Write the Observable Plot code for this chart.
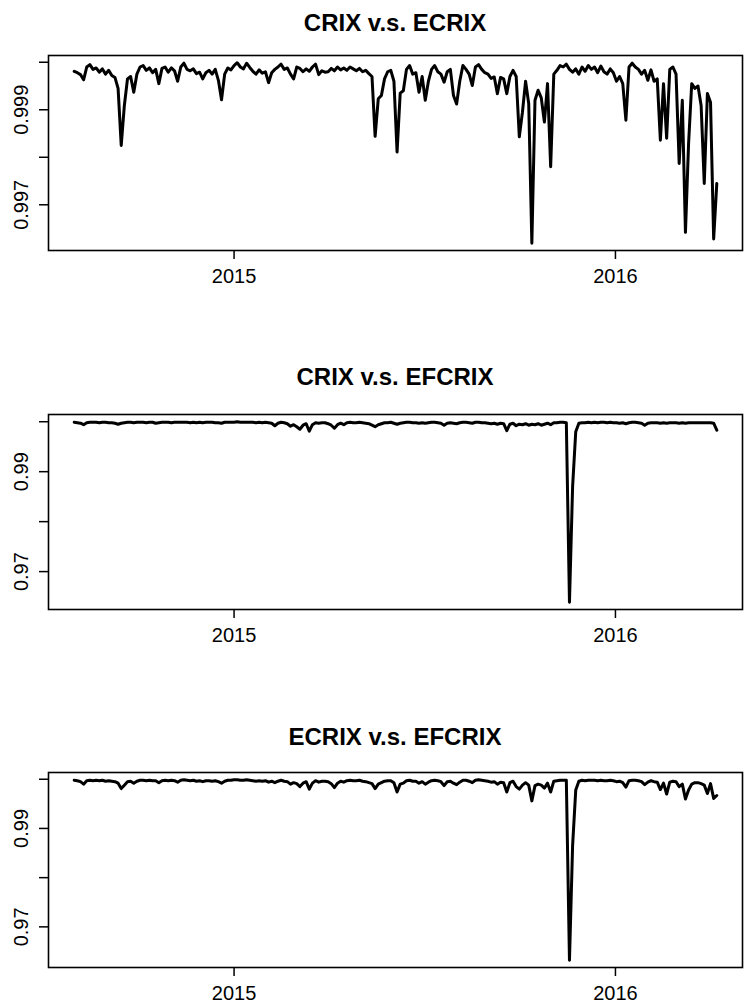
<!DOCTYPE html>
<html>
<head>
<meta charset="utf-8">
<script src="https://cdn.jsdelivr.net/npm/d3@7"></script>
<script src="https://cdn.jsdelivr.net/npm/@observablehq/plot@0.6"></script>
<style>
  body { margin: 0; background: #fff; }
  #wrap { position: relative; width: 746px; height: 1007px; overflow: hidden;
          font-family: "Liberation Sans", Arial, Helvetica, sans-serif; color: #000; }
  .title { position: absolute; left: 48px; width: 694px; text-align: center;
           font-weight: bold; font-size: 24px; line-height: 30px; white-space: nowrap; }
  .panel { position: absolute; left: 0; }
</style>
</head>
<body>
<div id="wrap"></div>
<script>
// ---- data (daily series sampled every 3 days, starting 2014-08-01) ----
const startDate = "2014-08-01";
const stepDays = 3;

const titles = ["CRIX v.s. ECRIX", "CRIX v.s. EFCRIX", "ECRIX v.s. EFCRIX"];

const crixEcrix = [
0.99981,0.99978,0.99974,0.99963,0.99990,0.99995,0.99985,0.99988,0.99979,0.99986,
0.99975,0.99983,0.99972,0.99968,0.99945,0.99825,0.99909,0.99965,0.99970,0.99937,
0.99975,0.99990,0.99993,0.99983,0.99988,0.99978,0.99985,0.99955,0.99987,0.99990,
0.99979,0.99988,0.99982,0.99960,0.99990,0.99998,0.99985,0.99982,0.99986,0.99976,
0.99979,0.99965,0.99978,0.99983,0.99975,0.99985,0.99962,0.99921,0.99975,0.99988,
0.99984,0.99993,0.99999,0.99990,0.99986,0.99998,0.99989,0.99981,0.99975,0.99984,
0.99977,0.99980,0.99957,0.99978,0.99985,0.99990,0.99996,0.99985,0.99988,0.99975,
0.99965,0.99990,0.99987,0.99980,0.99986,0.99981,0.99990,0.99996,0.99974,0.99982,
0.99979,0.99980,0.99987,0.99982,0.99990,0.99984,0.99988,0.99983,0.99990,0.99986,
0.99982,0.99987,0.99980,0.99983,0.99976,0.99970,0.99844,0.99923,0.99930,0.99965,
0.99980,0.99983,0.99960,0.99811,0.99935,0.99940,0.99985,0.99993,0.99975,0.99978,
0.99937,0.99970,0.99920,0.99960,0.99985,0.99993,0.99980,0.99975,0.99958,0.99980,
0.99985,0.99930,0.99912,0.99960,0.99993,0.99985,0.99975,0.99951,0.99990,0.99995,
0.99985,0.99978,0.99975,0.99966,0.99969,0.99934,0.99968,0.99965,0.99934,0.99970,
0.99983,0.99970,0.99843,0.99895,0.99960,0.99913,0.99619,0.99920,0.99941,0.99925,
0.99874,0.99955,0.99780,0.99975,0.99983,0.99993,0.99990,0.99996,0.99985,0.99979,
0.99986,0.99975,0.99990,0.99981,0.99993,0.99985,0.99990,0.99978,0.99992,0.99980,
0.99975,0.99986,0.99978,0.99960,0.99970,0.99955,0.99878,0.99990,0.99998,0.99990,
0.99985,0.99975,0.99983,0.99962,0.99984,0.99960,0.99965,0.99836,0.99955,0.99840,
0.99985,0.99990,0.99975,0.99787,0.99920,0.99642,0.99829,0.99955,0.99945,0.99950,
0.99909,0.99745,0.99934,0.99916,0.99628,0.99745
];

const crixEfcrix = [
0.9999,0.9998,0.9997,0.9994,0.9998,0.9999,0.9999,0.9999,0.9998,0.9999,
0.9999,0.9998,0.9998,0.9997,0.9995,0.9997,0.9998,0.9999,0.9999,0.9998,
0.9999,0.9999,0.9999,0.9998,0.9999,0.9999,0.9997,0.9998,0.9999,0.9999,
0.9999,0.9998,0.9999,0.9999,0.9999,0.9999,0.9999,0.9998,0.9999,0.9998,
0.9999,0.9998,0.9999,0.9999,0.9999,0.9998,0.9998,0.9997,0.9999,0.9999,
0.9999,0.9999,1.0000,0.9999,0.9999,0.9999,0.9999,0.9999,0.9998,0.9999,
0.9998,0.9999,0.9998,0.9997,0.9992,0.9997,0.9999,0.9998,0.9996,0.9991,
0.9994,0.9990,0.9985,0.9993,0.9996,0.9981,0.9994,0.9998,0.9997,0.9998,
0.9998,0.9996,0.9993,0.9987,0.9994,0.9997,0.9994,0.9998,0.9999,0.9998,
0.9998,0.9999,0.9998,0.9997,0.9996,0.9993,0.9990,0.9994,0.9996,0.9998,
0.9998,0.9999,0.9997,0.9995,0.9997,0.9998,0.9999,0.9999,0.9998,0.9998,
0.9997,0.9998,0.9997,0.9998,0.9999,0.9999,0.9998,0.9997,0.9993,0.9997,
0.9998,0.9997,0.9996,0.9998,0.9999,0.9999,0.9998,0.9997,0.9999,0.9999,
0.9998,0.9998,0.9997,0.9996,0.9997,0.9995,0.9997,0.9996,0.9982,0.9995,
0.9997,0.9992,0.9995,0.9994,0.9996,0.9993,0.9995,0.9994,0.9996,0.9993,
0.9995,0.9997,0.9994,0.9998,0.9998,0.9999,0.9999,0.9998,0.96386,0.9870,
0.9980,0.9997,0.9998,0.9998,0.9999,0.9998,0.9999,0.9998,0.9999,0.9999,
0.9998,0.9999,0.9998,0.9998,0.9997,0.9998,0.9996,0.9998,0.9999,0.9999,
0.9998,0.9997,0.9993,0.9997,0.9998,0.9998,0.9998,0.9997,0.9998,0.9997,
0.9998,0.9998,0.9998,0.9997,0.9998,0.9997,0.9998,0.9998,0.9998,0.9998,
0.9998,0.9998,0.9998,0.9998,0.9997,0.9983
];

const ecrixEfcrix = [
0.9998,0.9997,0.9995,0.9990,0.9997,0.9998,0.9997,0.9998,0.9997,0.9998,
0.9996,0.9997,0.9996,0.9995,0.9992,0.9981,0.9988,0.9995,0.9996,0.9992,
0.9996,0.9998,0.9998,0.9997,0.9998,0.9997,0.9997,0.9993,0.9997,0.9998,
0.9997,0.9998,0.9997,0.9994,0.9998,0.9999,0.9998,0.9997,0.9998,0.9996,
0.9997,0.9995,0.9997,0.9997,0.9996,0.9997,0.9995,0.9992,0.9996,0.9998,
0.9998,0.9999,0.9999,0.9998,0.9998,0.9999,0.9998,0.9997,0.9996,0.9997,
0.9996,0.9997,0.9994,0.9996,0.9993,0.9996,0.9998,0.9996,0.9995,0.9990,
0.9993,0.9991,0.9985,0.9992,0.9995,0.9980,0.9992,0.9997,0.9994,0.9996,
0.9996,0.9995,0.9991,0.9983,0.9992,0.9996,0.9994,0.9997,0.9998,0.9997,
0.9997,0.9998,0.9996,0.9995,0.9993,0.9991,0.9981,0.9990,0.9993,0.9996,
0.9997,0.9997,0.9993,0.9974,0.9990,0.9992,0.9997,0.9998,0.9996,0.9996,
0.9992,0.9995,0.9990,0.9994,0.9997,0.9998,0.9997,0.9995,0.9987,0.9995,
0.9996,0.9992,0.9989,0.9994,0.9998,0.9998,0.9996,0.9993,0.9998,0.9999,
0.9998,0.9997,0.9996,0.9994,0.9995,0.9990,0.9994,0.9993,0.9974,0.9993,
0.9996,0.9985,0.9980,0.9988,0.9993,0.9988,0.9956,0.9987,0.9990,0.9988,
0.9982,0.9992,0.9974,0.9996,0.9997,0.9998,0.9998,0.9998,0.96321,0.9865,
0.9978,0.9996,0.9998,0.9997,0.9998,0.9998,0.9998,0.9997,0.9998,0.9997,
0.9997,0.9998,0.9997,0.9995,0.9996,0.9993,0.9984,0.9997,0.9998,0.9998,
0.9997,0.9995,0.9989,0.9994,0.9997,0.9995,0.9994,0.9979,0.9992,0.9970,
0.9994,0.9996,0.9995,0.9985,0.9990,0.9960,0.9978,0.9990,0.9993,0.9993,
0.9991,0.9988,0.9971,0.9991,0.9961,0.9967
];

const yTicksTop = [0.997, 0.998, 0.999, 1.000];
const yLabelsTop = ["0.997", "", "0.999", ""];
const yTicksLow = [0.97, 0.98, 0.99, 1.00];
const yLabelsLow = ["0.97", "", "0.99", ""];
const xTicks = ["2015-01-01", "2016-01-01"];
const xTickLabels = ["2015", "2016"];

// ---- layout ----
const W = 746;
const boxTops = [55, 414, 772];
const titleTops = [8.4, 361.7, 721.7];
const series = [crixEcrix, crixEfcrix, ecrixEfcrix];
const yTickSets = [yTicksTop, yTicksLow, yTicksLow];
const yLabelSets = [yLabelsTop, yLabelsLow, yLabelsLow];

const wrap = document.getElementById("wrap");
const start = new Date(startDate + "T00:00:00Z");

series.forEach((vals, k) => {
  const data = vals.map((v, i) => ({date: d3.utcDay.offset(start, i * stepDays), value: v}));
  const [x0, x1] = d3.extent(data, d => +d.date);
  const xr = x1 - x0;
  const [y0, y1] = d3.extent(vals);
  const yr = y1 - y0;
  const labelMap = new Map(yTickSets[k].map((t, i) => [t, yLabelSets[k][i]]));
  const xLabelMap = new Map(xTicks.map((t, i) => [+new Date(t + "T00:00:00Z"), xTickLabels[i]]));

  const t = document.createElement("div");
  t.className = "title";
  t.style.top = titleTops[k] + "px";
  t.textContent = titles[k];
  wrap.appendChild(t);

  const marginTop = 10;
  const chart = Plot.plot({
    width: W,
    height: 245,
    marginLeft: 48,
    marginRight: 4,
    marginTop,
    marginBottom: 40,
    style: {fontFamily: '"Liberation Sans", Arial, Helvetica, sans-serif', fontSize: "20px", background: "white", color: "black", overflow: "visible"},
    x: {type: "utc", domain: [new Date(x0 - 0.04 * xr), new Date(x1 + 0.04 * xr)], label: null},
    y: {domain: [y0 - 0.04 * yr, y1 + 0.04 * yr], label: null},
    marks: [
      Plot.axisY({
        ticks: yTickSets[k], tickSize: 9, tickPadding: 12, tickRotate: -90,
        strokeWidth: 1.5, tickFormat: d => labelMap.get(d) ?? "", label: null
      }),
      Plot.axisX({
        ticks: xTicks.map(s => new Date(s + "T00:00:00Z")), tickSize: 9, tickPadding: 9,
        strokeWidth: 1.5, tickFormat: d => xLabelMap.get(+d) ?? "", label: null
      }),
      Plot.lineY(data, {x: "date", y: "value", stroke: "black", strokeWidth: 3, strokeLinejoin: "round"}),
      Plot.frame({stroke: "black", strokeWidth: 1.6})
    ]
  });
  chart.classList.add("panel");
  chart.style.top = (boxTops[k] - marginTop) + "px";
  wrap.appendChild(chart);
});
</script>
</body>
</html>
